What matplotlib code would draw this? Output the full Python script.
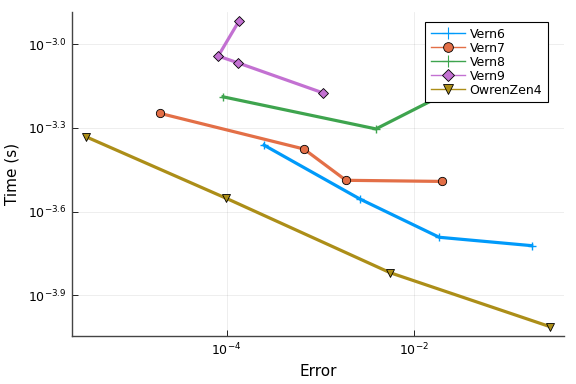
import matplotlib
matplotlib.use("Agg")
import matplotlib.pyplot as plt
from matplotlib.lines import Line2D
import numpy as np

# --- Data (log10 values) ---
vern6_logerr = [-3.602, -2.579, -1.733, -0.748]
vern6_logtime = [-3.362, -3.555, -3.692, -3.722]

vern7_logerr = [-4.714, -3.176, -2.728, -1.701]
vern7_logtime = [-3.248, -3.376, -3.488, -3.492]

vern8_logerr = [-4.039, -2.408, -1.300]
vern8_logtime = [-3.189, -3.304, -3.115]

vern9_logerr = [-3.869, -4.090, -3.883, -2.973]
vern9_logtime = [-2.918, -3.043, -3.067, -3.175]

owren_logerr = [-5.500, -4.007, -2.256, -0.553]
owren_logtime = [-3.332, -3.552, -3.819, -4.012]

series_names = ["Vern6", "Vern7", "Vern8", "Vern9", "OwrenZen4"]
xtick_exps = [-4, -2]
ytick_exps = [-3.0, -3.3, -3.6, -3.9]

# --- Style ---
colors = ["#009AFA", "#E36F47", "#3EA44E", "#C371D2", "#AC8E18"]
markers = ["+", "o", "+", "D", "v"]
msizes = [6, 6, 6, 5, 6]

series = [
    (vern6_logerr, vern6_logtime),
    (vern7_logerr, vern7_logtime),
    (vern8_logerr, vern8_logtime),
    (vern9_logerr, vern9_logtime),
    (owren_logerr, owren_logtime),
]

fig = plt.figure(figsize=(5.76, 3.84), dpi=100)
ax = fig.add_axes([0.125, 0.125, 0.854, 0.844])

for (lx, ly), c, m, ms in zip(series, colors, markers, msizes):
    x = 10 ** np.array(lx)
    y = 10 ** np.array(ly)
    if m == "+":
        ax.plot(x, y, color=c, lw=2.3, marker=m, ms=ms, mew=1.0, mec=c)
    else:
        ax.plot(x, y, color=c, lw=2.3, marker=m, ms=ms, mew=0.6, mec="black", mfc=c)

ax.set_xscale("log")
ax.set_yscale("log")
ax.set_xlim(10 ** -5.649, 10 ** -0.404)
ax.set_ylim(10 ** -4.0455, 10 ** -2.885)

ax.set_xticks([10.0 ** e for e in xtick_exps])
ax.set_xticklabels([r"$10^{%d}$" % e for e in xtick_exps])
ax.set_yticks([10.0 ** e for e in ytick_exps])
ax.set_yticklabels([r"$10^{%.1f}$" % e for e in ytick_exps])
ax.minorticks_off()
ax.tick_params(direction="in", length=4, width=0.6, labelsize=9, colors="black", pad=4)
for side in ["top", "right"]:
    ax.spines[side].set_visible(False)
for side in ["left", "bottom"]:
    ax.spines[side].set_color("#444444")
    ax.spines[side].set_linewidth(1.0)
ax.grid(True, color="black", alpha=0.08, lw=0.6)

ax.set_xlabel("Error", fontsize=11, labelpad=4)
ax.set_ylabel("Time (s)", fontsize=11, labelpad=6)

handles = []
for c, m, ms in zip(colors, markers, msizes):
    if m == "+":
        h = Line2D([], [], color=c, lw=1, marker=m, ms=ms + 2, mew=0.8, mec=c)
    else:
        h = Line2D([], [], color=c, lw=1, marker=m, ms=ms + 1, mew=0.6, mec="black", mfc=c)
    handles.append(h)

leg = ax.legend(handles, series_names, loc="upper right",
                bbox_to_anchor=(548 / 576, 1 - 22 / 384), bbox_transform=fig.transFigure,
                fontsize=9, frameon=True, fancybox=False, framealpha=1,
                edgecolor="black", handlelength=2.7, borderpad=0.45,
                labelspacing=0.08, handletextpad=0.4, borderaxespad=0)
leg.get_frame().set_linewidth(0.8)

fig.savefig("out.png", dpi=100)
